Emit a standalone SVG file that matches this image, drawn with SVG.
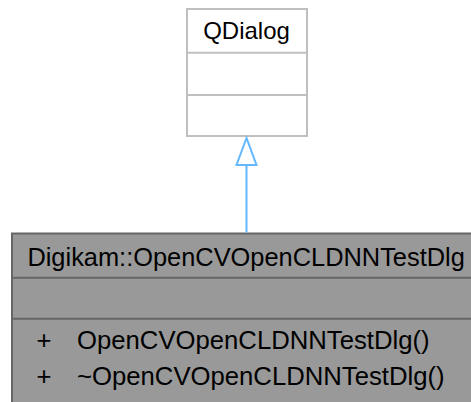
<svg xmlns="http://www.w3.org/2000/svg" width="471" height="402" viewBox="0 0 471 402">
<defs>
<style>
.t{font-family:"Liberation Sans",Arial,Helvetica,sans-serif;fill:#000000}
.base rect,.base line{stroke:#bfbfbf;stroke-width:2}
.cur rect,.cur line{stroke:#666666;stroke-width:2}
.edge{stroke:#63b8ff;stroke-width:2;fill:none}
.m{font-size:25.7px}
</style>
</defs>
<rect x="0" y="0" width="471" height="402" fill="#ffffff"/>
<g id="node-qdialog" class="base">
<rect x="187" y="9" width="120" height="127" fill="#ffffff"/>
<line x1="187" y1="52.7" x2="307" y2="52.7"/>
<line x1="187" y1="95" x2="307" y2="95"/>
<text class="t" x="246.5" y="39" font-size="24" text-anchor="middle">QDialog</text>
</g>
<g id="node-dlg" class="cur">
<rect x="12" y="233.5" width="480" height="190" fill="#999999"/>
<line x1="12" y1="277.8" x2="492" y2="277.8"/>
<line x1="12" y1="318.8" x2="492" y2="318.8"/>
<text class="t" x="27.4" y="265.7" font-size="25.4">Digikam::OpenCVOpenCLDNNTestDlg</text>
<text class="t m" x="36.5" y="348.5">+</text>
<text class="t m" x="77" y="348.5">OpenCVOpenCLDNNTestDlg()</text>
<text class="t m" x="36.5" y="384.5">+</text>
<text class="t m" x="77" y="384.5">~OpenCVOpenCLDNNTestDlg()</text>
</g>
<g id="connectors">
<line class="edge" x1="246.5" y1="165" x2="246.5" y2="232.5"/>
<polygon class="edge" points="246.5,138 236.5,165 256.5,165"/>
</g>
</svg>
